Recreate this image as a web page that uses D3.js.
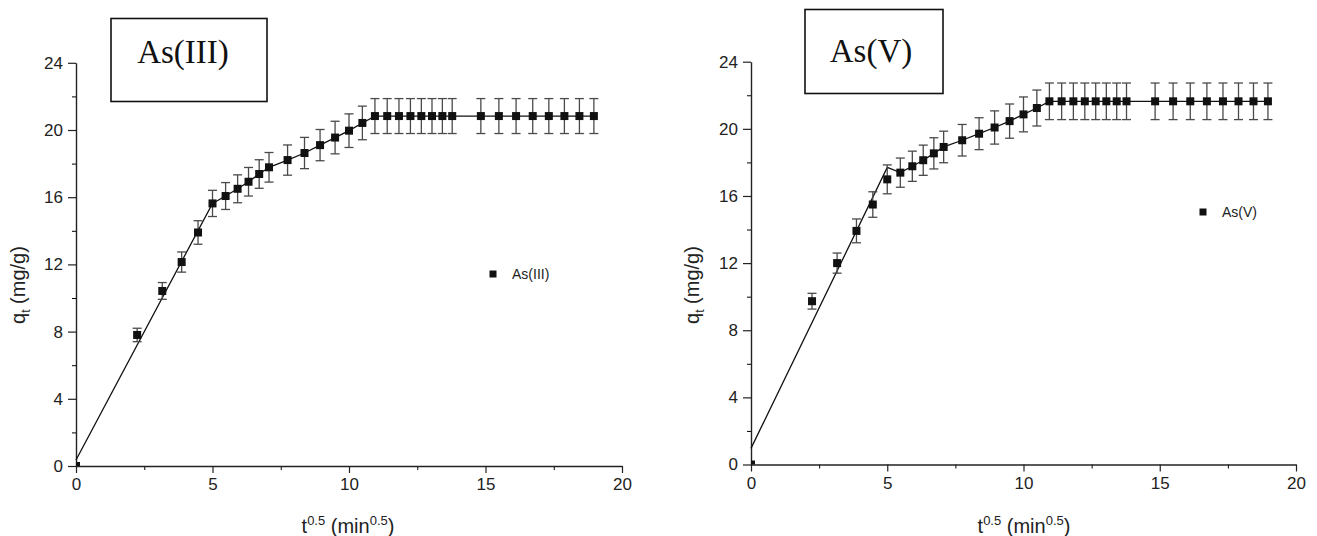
<!DOCTYPE html>
<html><head><meta charset="utf-8">
<script src="https://cdn.jsdelivr.net/npm/d3@7"></script>
<style>body{margin:0;background:#fff}svg{display:block}</style>
</head><body>
<script>
// ---- data ----
const xVals = [0, 2.24, 3.16, 3.87, 4.47, 5.0, 5.48, 5.92, 6.32, 6.71, 7.07, 7.75, 8.37, 8.94, 9.49, 10.0, 10.49, 10.95,
  11.40, 11.83, 12.25, 12.65, 13.04, 13.42, 13.78, 14.83, 15.49, 16.12, 16.73, 17.32, 17.89, 18.44, 18.97];
const as3Vals = [0, 7.8, 10.42, 12.14, 13.9, 15.63, 16.07, 16.5, 16.92, 17.38, 17.78, 18.21, 18.63, 19.1, 19.55, 19.96, 20.42, 20.83,
  20.83, 20.83, 20.83, 20.83, 20.83, 20.83, 20.83, 20.83, 20.83, 20.83, 20.83, 20.83, 20.83, 20.83, 20.83];
const as3Err = [0, 0.4, 0.5, 0.6, 0.7, 0.78, 0.8, 0.83, 0.85, 0.85, 0.88, 0.9, 0.93, 0.93, 0.97, 1.0, 1.0, 1.04,
  1.04, 1.04, 1.04, 1.04, 1.04, 1.04, 1.04, 1.04, 1.04, 1.04, 1.04, 1.04, 1.04, 1.04, 1.04];
const as5Vals = [0, 9.73, 12.0, 13.92, 15.49, 16.99, 17.39, 17.77, 18.13, 18.54, 18.92, 19.32, 19.71, 20.08, 20.46, 20.86, 21.24, 21.64,
  21.64, 21.64, 21.64, 21.64, 21.64, 21.64, 21.64, 21.64, 21.64, 21.64, 21.64, 21.64, 21.64, 21.64, 21.64];
const as5Err = [0, 0.47, 0.6, 0.71, 0.76, 0.86, 0.87, 0.9, 0.9, 0.93, 0.94, 0.94, 0.95, 0.99, 1.02, 1.04, 1.07, 1.09,
  1.09, 1.09, 1.09, 1.09, 1.09, 1.09, 1.09, 1.09, 1.09, 1.09, 1.09, 1.09, 1.09, 1.09, 1.09];
// fitted multi-linear lines
const as3LineX = [0, 5.0, 5.48, 5.92, 6.32, 6.71, 7.07, 7.75, 8.37, 8.94, 9.49, 10.0, 10.49, 10.95, 18.97];
const as3LineY = [0.36, 15.63, 16.07, 16.5, 16.92, 17.38, 17.78, 18.21, 18.63, 19.1, 19.55, 19.96, 20.42, 20.83, 20.83];
const as5LineX = [0, 5.0, 5.48, 5.92, 6.32, 6.71, 7.07, 7.75, 8.37, 8.94, 9.49, 10.0, 10.49, 10.95, 18.97];
const as5LineY = [0.96, 17.7, 17.39, 17.77, 18.13, 18.54, 18.92, 19.32, 19.71, 20.08, 20.46, 20.86, 21.24, 21.64, 21.64];
const xTicks = [0, 5, 10, 15, 20];
const yTicks = [0, 4, 8, 12, 16, 20, 24];
const seriesNames = ["As(III)", "As(V)"];

const W = 1317, H = 536;
const FONT = "'Liberation Sans', Arial, sans-serif";
const svg = d3.select("body").append("svg").attr("width", W).attr("height", H)
  .style("font-family", FONT);

const panels = [
  {name: seriesNames[0], ys: as3Vals, err: as3Err, lx: as3LineX, ly: as3LineY,
   x0: 76, x1: 622, y0: 466, y1: 62.8, box: [111, 18.5, 156, 83], title: [183, 63],
   leg: [493, 274], ylab: [25, 285], xlab: [348, 533]},
  {name: seriesNames[1], ys: as5Vals, err: as5Err, lx: as5LineX, ly: as5LineY,
   x0: 751, x1: 1296, y0: 464.5, y1: 61.7, box: [805, 9.5, 138, 84], title: [871, 62],
   leg: [1203, 212], ylab: [699, 285], xlab: [1024, 533]}
];

panels.forEach((p, i) => {
  const x = d3.scaleLinear().domain([0, 20]).range([p.x0, p.x1]);
  const y = d3.scaleLinear().domain([0, 24]).range([p.y0, p.y1]);
  const g = svg.append("g");

  const clipId = "clip" + i;
  svg.append("defs").append("clipPath").attr("id", clipId)
    .append("rect").attr("x", p.x0).attr("y", 0).attr("width", p.x1 - p.x0 + 20).attr("height", p.y0);

  // minor ticks
  g.append("g").attr("transform", `translate(0,${p.y0})`)
    .call(d3.axisBottom(x).tickValues([2.5, 7.5, 12.5, 17.5]).tickSize(4).tickFormat(""))
    .call(s => s.select(".domain").remove());
  g.append("g").attr("transform", `translate(${p.x0},0)`)
    .call(d3.axisLeft(y).tickValues([2, 6, 10, 14, 18, 22]).tickSize(4).tickFormat(""))
    .call(s => s.select(".domain").remove());

  // major axes
  const xa = g.append("g").attr("transform", `translate(0,${p.y0})`)
    .call(d3.axisBottom(x).tickValues(xTicks).tickSize(7).tickPadding(5).tickSizeOuter(0));
  const ya = g.append("g").attr("transform", `translate(${p.x0},0)`)
    .call(d3.axisLeft(y).tickValues(yTicks).tickSize(8).tickPadding(5).tickSizeOuter(0));
  [xa, ya].forEach(a => {
    a.attr("font-size", null).attr("font-family", null);
    a.selectAll("text").attr("font-size", 17).attr("fill", "#222").style("font-family", FONT);
    a.selectAll("line").attr("stroke", "#222").attr("stroke-width", 1.2);
    a.select(".domain").attr("stroke", "#222").attr("stroke-width", 1.4);
  });

  // fit line
  const pts = p.lx.map((v, k) => [v, p.ly[k]]);
  g.append("path").datum(pts)
    .attr("d", d3.line().x(d => x(d[0])).y(d => y(d[1])))
    .attr("fill", "none").attr("stroke", "#111").attr("stroke-width", 1.3);

  // error bars
  const data = xVals.map((v, k) => ({x: v, y: p.ys[k], e: p.err[k]})).filter(d => d.e > 0);
  const eb = g.append("g").attr("stroke", "#4a4a4a").attr("stroke-width", 1.3);
  data.forEach(d => {
    eb.append("line").attr("x1", x(d.x)).attr("x2", x(d.x)).attr("y1", y(d.y - d.e)).attr("y2", y(d.y + d.e));
    eb.append("line").attr("x1", x(d.x) - 4.5).attr("x2", x(d.x) + 4.5).attr("y1", y(d.y - d.e)).attr("y2", y(d.y - d.e));
    eb.append("line").attr("x1", x(d.x) - 4.5).attr("x2", x(d.x) + 4.5).attr("y1", y(d.y + d.e)).attr("y2", y(d.y + d.e));
  });

  // markers
  g.append("g").attr("clip-path", `url(#${clipId})`)
    .selectAll("rect").data(xVals.map((v, k) => [v, p.ys[k]])).join("rect")
    .attr("x", d => x(d[0]) - 4).attr("y", d => y(d[1]) - 4)
    .attr("width", 8).attr("height", 8).attr("fill", "#111");

  // title box
  svg.append("rect").attr("x", p.box[0]).attr("y", p.box[1]).attr("width", p.box[2]).attr("height", p.box[3])
    .attr("fill", "none").attr("stroke", "#111").attr("stroke-width", 1.6);
  svg.append("text").attr("x", p.title[0]).attr("y", p.title[1]).attr("text-anchor", "middle")
    .attr("font-size", 33).attr("fill", "#111")
    .style("font-family", "'Liberation Serif', 'Times New Roman', serif").text(p.name);

  // legend
  svg.append("rect").attr("x", p.leg[0] - 3.5).attr("y", p.leg[1] - 3.5).attr("width", 7).attr("height", 7).attr("fill", "#111");
  svg.append("text").attr("x", p.leg[0] + 19).attr("y", p.leg[1] + 5).attr("font-size", 14).attr("fill", "#222").text(p.name);

  // y label
  const yl = svg.append("text").attr("transform", `translate(${p.ylab[0]},${p.ylab[1]}) rotate(-90)`)
    .attr("text-anchor", "middle").attr("font-size", 20).attr("fill", "#222");
  yl.append("tspan").text("q");
  yl.append("tspan").attr("font-size", 12).attr("dy", 5).text("t");
  yl.append("tspan").attr("dy", -5).text(" (mg/g)");

  // x label
  const xl = svg.append("text").attr("x", p.xlab[0]).attr("y", p.xlab[1])
    .attr("text-anchor", "middle").attr("font-size", 20).attr("fill", "#222");
  xl.append("tspan").text("t");
  xl.append("tspan").attr("font-size", 13).attr("dy", -8).text("0.5");
  xl.append("tspan").attr("dy", 8).text(" (min");
  xl.append("tspan").attr("font-size", 13).attr("dy", -8).text("0.5");
  xl.append("tspan").attr("dy", 8).text(")");
});
</script>
</body></html>
